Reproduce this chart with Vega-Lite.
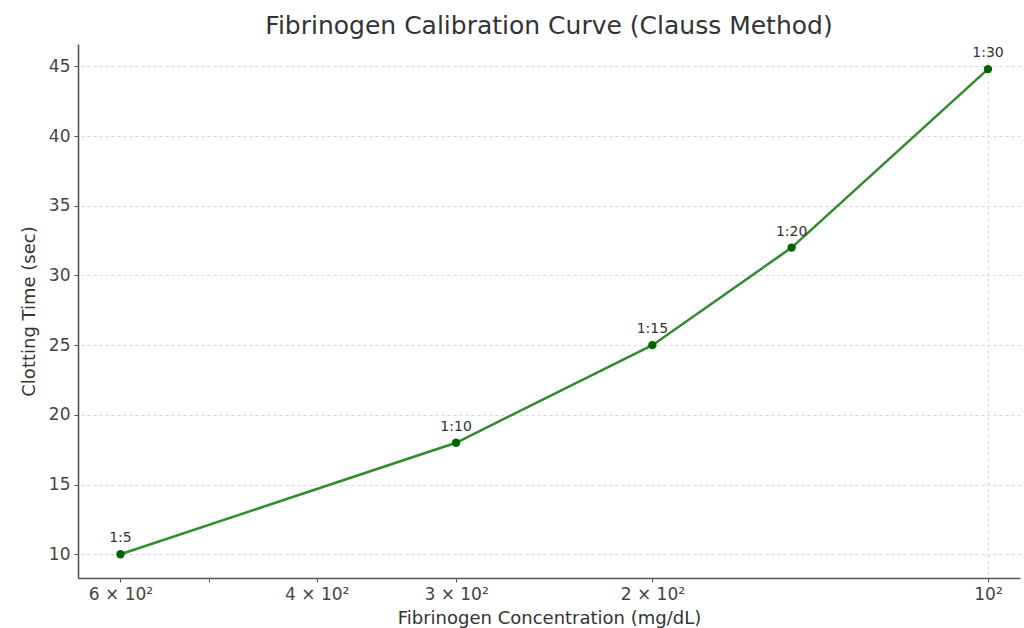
{
  "$schema": "https://vega.github.io/schema/vega-lite/v6.json",
  "width": 942,
  "height": 534,
  "autosize": {"type": "none"},
  "padding": {"left": 78, "top": 44, "right": 4, "bottom": 50},
  "background": "white",
  "config": {
    "font": "DejaVu Sans",
    "view": {"stroke": null},
    "axis": {"labelFont": "DejaVu Sans", "titleFont": "DejaVu Sans", "titleFontWeight": "normal"}
  },
  "title": {
    "text": "Fibrinogen Calibration Curve (Clauss Method)",
    "fontSize": 25,
    "fontWeight": "normal",
    "color": "#333333",
    "anchor": "middle",
    "offset": 5
  },
  "data": {
    "values": [
      {"conc": 600, "time": 10, "ratio": "1:5"},
      {"conc": 300, "time": 18, "ratio": "1:10"},
      {"conc": 200, "time": 25, "ratio": "1:15"},
      {"conc": 150, "time": 32, "ratio": "1:20"},
      {"conc": 100, "time": 44.8, "ratio": "1:30"}
    ]
  },
  "encoding": {
    "x": {
      "field": "conc",
      "type": "quantitative",
      "scale": {"type": "log", "domain": [93.6, 655], "reverse": true, "nice": false},
      "axis": {
        "title": "Fibrinogen Concentration (mg/dL)",
        "titleFontSize": 18,
        "titleColor": "#333333",
        "titlePadding": 7,
        "values": [600, 500, 400, 300, 200, 100],
        "labelExpr": "datum.value == 600 ? '6 × 10²' : datum.value == 400 ? '4 × 10²' : datum.value == 300 ? '3 × 10²' : datum.value == 200 ? '2 × 10²' : datum.value == 100 ? '10²' : ''",
        "labelFontSize": 17,
        "labelColor": "#444444",
        "labelPadding": 4,
        "labelFlush": false,
        "labelOverlap": false,
        "domainColor": "#555555",
        "domainWidth": 1.6,
        "tickColor": "#555555",
        "tickSize": 4,
        "grid": true,
        "gridColor": {"condition": {"test": "datum.value == 100", "value": "#d8d8d8"}, "value": "transparent"},
        "gridDash": [3, 3]
      }
    },
    "y": {
      "field": "time",
      "type": "quantitative",
      "scale": {"domain": [8.3, 46.6], "nice": false, "zero": false},
      "axis": {
        "title": "Clotting Time (sec)",
        "titleFontSize": 18,
        "titleColor": "#333333",
        "titlePadding": 10,
        "values": [10, 15, 20, 25, 30, 35, 40, 45],
        "labelFontSize": 17,
        "labelColor": "#444444",
        "labelPadding": 4,
        "domainColor": "#555555",
        "domainWidth": 1.6,
        "tickColor": "#555555",
        "tickSize": 4,
        "grid": true,
        "gridColor": "#d8d8d8",
        "gridDash": [3, 3]
      }
    }
  },
  "layer": [
    {"mark": {"type": "line", "color": "#2e8b2e", "strokeWidth": 2.5}},
    {"mark": {"type": "point", "filled": true, "color": "#006400", "size": 70, "opacity": 1}},
    {"mark": {"type": "text", "dy": -16, "fontSize": 14, "color": "#333333"}, "encoding": {"text": {"field": "ratio"}}}
  ]
}
